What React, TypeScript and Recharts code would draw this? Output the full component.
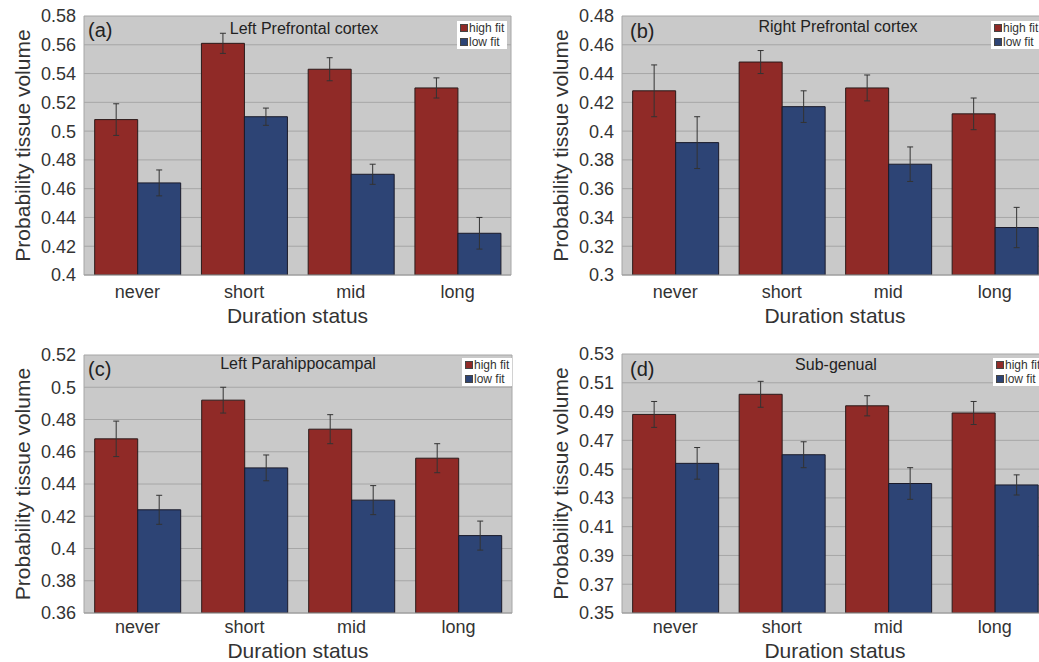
import React from 'react';
import { BarChart, Bar, XAxis, YAxis, CartesianGrid, ErrorBar, Legend, Label } from 'recharts';

const categories = ['never', 'short', 'mid', 'long'];

const highA = [0.508, 0.561, 0.543, 0.530];
const highErrA = [0.011, 0.007, 0.008, 0.007];
const lowA = [0.464, 0.510, 0.470, 0.429];
const lowErrA = [0.009, 0.006, 0.007, 0.011];

const highB = [0.428, 0.448, 0.430, 0.412];
const highErrB = [0.018, 0.008, 0.009, 0.011];
const lowB = [0.392, 0.417, 0.377, 0.333];
const lowErrB = [0.018, 0.011, 0.012, 0.014];

const highC = [0.468, 0.492, 0.474, 0.456];
const highErrC = [0.011, 0.008, 0.009, 0.009];
const lowC = [0.424, 0.450, 0.430, 0.408];
const lowErrC = [0.009, 0.008, 0.009, 0.009];

const highD = [0.488, 0.502, 0.494, 0.489];
const highErrD = [0.009, 0.009, 0.007, 0.008];
const lowD = [0.454, 0.460, 0.440, 0.439];
const lowErrD = [0.011, 0.009, 0.011, 0.007];

const ticksA = [0.4, 0.42, 0.44, 0.46, 0.48, 0.5, 0.52, 0.54, 0.56, 0.58];
const ticksB = [0.3, 0.32, 0.34, 0.36, 0.38, 0.4, 0.42, 0.44, 0.46, 0.48];
const ticksC = [0.36, 0.38, 0.4, 0.42, 0.44, 0.46, 0.48, 0.5, 0.52];
const ticksD = [0.35, 0.37, 0.39, 0.41, 0.43, 0.45, 0.47, 0.49, 0.51, 0.53];

const seriesNames = ['high fit', 'low fit'];
const xTitle = 'Duration status';
const yTitle = 'Probability tissue volume';

const RED = '#902a27';
const BLUE = '#2d4475';
const FONT = '"Liberation Sans", Arial, Helvetica, sans-serif';
const TEXT = '#333';

type PanelProps = {
  left: number; top: number; width: number; height: number;
  yAxisWidth: number; marginTop: number; marginRight: number; xAxisHeight: number;
  xTickMargin: number; xTitleOffset: number;
  high: number[]; highErr: number[]; low: number[]; lowErr: number[];
  ticks: number[]; title: string; letter: string;
  titleX: number; titleY: number; letterX: number; letterY: number;
  legendX: number; legendY: number;
};

const LegendBox = () => (
  <div style={{ background: '#fff', padding: '0 3px 0 3px', fontFamily: FONT, fontSize: 12, color: TEXT, lineHeight: '14px', whiteSpace: 'nowrap' }}>
    {seriesNames.map((n, i) => (
      <div key={n} style={{ display: 'flex', alignItems: 'center' }}>
        <span style={{ display: 'inline-block', width: 8, height: 8, background: i === 0 ? RED : BLUE, border: '1px solid #444', boxSizing: 'border-box', marginRight: 1 }} />
        <span>{n}</span>
      </div>
    ))}
  </div>
);

const Panel = (p: PanelProps) => {
  const data = categories.map((c, i) => ({ cat: c, high: p.high[i], highErr: p.highErr[i], low: p.low[i], lowErr: p.lowErr[i] }));
  const fmt = (v: number) => String(Number(v.toFixed(2)));
  return (
    <div style={{ position: 'absolute', left: p.left, top: p.top, width: p.width, height: p.height }}>
      <BarChart width={p.width} height={p.height} data={data}
        margin={{ top: p.marginTop, right: p.marginRight, left: 0, bottom: 0 }}
        barCategoryGap="10%" barGap={0}>
        <CartesianGrid stroke="#a6a6a6" fill="#c9c9c9" fillOpacity={1}
          verticalCoordinatesGenerator={(props: any) => {
            const o = props.offset || {};
            return [o.left, o.left + o.width];
          }} />
        <XAxis dataKey="cat" height={p.xAxisHeight} tickLine={false} tickMargin={p.xTickMargin}
          axisLine={{ stroke: '#9a9a9a' }}
          tick={{ fontSize: 18, fill: TEXT, fontFamily: FONT }}>
          <Label content={(props: any) => {
            const vb = props.viewBox || {};
            return (
              <text x={vb.x + vb.width / 2} y={vb.y + p.xTitleOffset} textAnchor="middle" dominantBaseline="central"
                fontSize={21} fill={TEXT} fontFamily={FONT}>{xTitle}</text>
            );
          }} />
        </XAxis>
        <YAxis width={p.yAxisWidth} domain={[p.ticks[0], p.ticks[p.ticks.length - 1]]} ticks={p.ticks}
          allowDataOverflow tickLine={false} axisLine={false} tickFormatter={fmt}
          tick={{ fontSize: 18, fill: TEXT, fontFamily: FONT }}>
          <Label content={(props: any) => {
            const vb = props.viewBox || {};
            const cx = vb.x + vb.width - 62;
            const cy = vb.y + vb.height / 2;
            return (
              <text x={cx} y={cy} transform={`rotate(-90 ${cx} ${cy})`} textAnchor="middle" dominantBaseline="central"
                fontSize={21} fill={TEXT} fontFamily={FONT}>{yTitle}</text>
            );
          }} />
        </YAxis>
        <Legend verticalAlign="middle" layout="horizontal" content={() => <LegendBox />}
          wrapperStyle={{ left: p.legendX, top: p.legendY, width: 'auto', height: 'auto' }} />
        <Bar dataKey="high" name={seriesNames[0]} fill={RED} stroke="#2a1a1a" strokeWidth={1} isAnimationActive={false}>
          <ErrorBar dataKey="highErr" width={3} stroke="#333" strokeWidth={1} isAnimationActive={false} />
        </Bar>
        <Bar dataKey="low" name={seriesNames[1]} fill={BLUE} stroke="#1a1a2a" strokeWidth={1} isAnimationActive={false}>
          <ErrorBar dataKey="lowErr" width={3} stroke="#333" strokeWidth={1} isAnimationActive={false} />
        </Bar>
      </BarChart>
      <div style={{ position: 'absolute', left: p.titleX, top: p.titleY, transform: 'translate(-50%, -50%)', fontFamily: FONT, fontSize: 16, color: '#222', whiteSpace: 'nowrap' }}>{p.title}</div>
      <div style={{ position: 'absolute', left: p.letterX, top: p.letterY, transform: 'translate(0, -50%)', fontFamily: FONT, fontSize: 20, color: '#222', whiteSpace: 'nowrap' }}>{p.letter}</div>
    </div>
  );
};

export default function App() {
  return (
    <div style={{ position: 'absolute', left: 0, top: 0, width: 1039, height: 662, overflow: 'hidden', background: '#fff' }}>
      <Panel left={0} top={0} width={520} height={330} yAxisWidth={84} marginTop={16} marginRight={9} xAxisHeight={55}
        xTickMargin={4} xTitleOffset={40}
        high={highA} highErr={highErrA} low={lowA} lowErr={lowErrA} ticks={ticksA}
        title="Left Prefrontal cortex" letter="(a)" titleX={304} titleY={29} letterX={88} letterY={30}
        legendX={457} legendY={21} />
      <Panel left={520} top={0} width={537} height={330} yAxisWidth={102} marginTop={16} marginRight={9} xAxisHeight={55}
        xTickMargin={4} xTitleOffset={40}
        high={highB} highErr={highErrB} low={lowB} lowErr={lowErrB} ticks={ticksB}
        title="Right Prefrontal cortex" letter="(b)" titleX={318} titleY={27} letterX={110} letterY={31}
        legendX={471} legendY={21} />
      <Panel left={0} top={330} width={521} height={332} yAxisWidth={84} marginTop={25} marginRight={9} xAxisHeight={49}
        xTickMargin={1} xTitleOffset={37}
        high={highC} highErr={highErrC} low={lowC} lowErr={lowErrC} ticks={ticksC}
        title="Left Parahippocampal" letter="(c)" titleX={298} titleY={34} letterX={88} letterY={39}
        legendX={462} legendY={28} />
      <Panel left={520} top={330} width={537} height={332} yAxisWidth={102} marginTop={24} marginRight={9} xAxisHeight={49}
        xTickMargin={1} xTitleOffset={37}
        high={highD} highErr={highErrD} low={lowD} lowErr={lowErrD} ticks={ticksD}
        title="Sub-genual" letter="(d)" titleX={316} titleY={35} letterX={110} letterY={39}
        legendX={473} legendY={28} />
    </div>
  );
}
